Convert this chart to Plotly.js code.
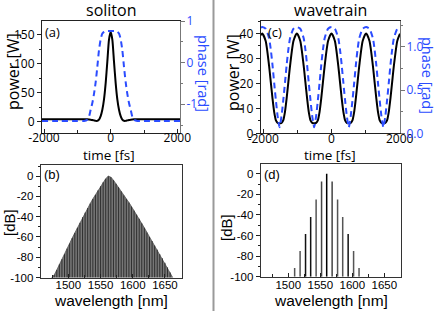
<!DOCTYPE html>
<html>
<head>
<meta charset="utf-8">
<script src="https://cdn.plot.ly/plotly-3.0.1.min.js"></script>
<style>html,body{margin:0;padding:0;background:#fff;}#chart{width:436px;height:311px;}</style>
</head>
<body>
<div id="chart"></div>
<script>
// ---------- data ----------
// (a) soliton, time domain
const timeA = [-2060,-1500,-1000,-800,-700,-650,-600,-550,-500,-450,-400,-350,-300,-250,-200,-150,-100,-50,0,50,100,150,200,250,300,350,400,450,500,550,600,650,700,800,1000,1500,2080];
const powerA = [4.5,4.5,4.5,4.5,4.5,4.3,4.0,3.5,2.8,2.0,2.0,4.0,10,21,39,67,104,142,155,142,104,67,39,21,10,4.0,2.0,2.0,2.8,3.5,4.0,4.3,4.5,4.5,4.5,4.5,4.5];
const phaseA = [-1.40,-1.40,-1.40,-1.40,-1.37,-1.30,-1.13,-0.97,-0.75,-0.47,-0.10,0.30,0.56,0.70,0.74,0.76,0.76,0.76,0.76,0.76,0.76,0.76,0.74,0.70,0.56,0.30,-0.10,-0.47,-0.75,-0.97,-1.13,-1.30,-1.37,-1.40,-1.40,-1.40,-1.40];

// (c) wavetrain, time domain
const timeC = [-2076,-2030,
  -1930,-1830,-1780,-1730,-1680,-1630,-1580, -1523,
  -1465,-1415,-1365,-1315,-1265,-1215,-1115, -1015,
  -915,-815,-765,-715,-665,-615,-565, -508,
  -450,-400,-350,-300,-250,-200,-100, 0,
  100,200,250,300,350,400,450, 508,
  565,615,665,715,765,815,915, 1015,
  1115,1215,1265,1315,1365,1415,1465, 1523,
  1580,1630,1680,1730,1780,1830,1930, 2010];
const powerC = [39.3,40,
  37,27,20.5,14,8.5,5.2,4.2, 4.0,
  4.2,5.2,8.5,14,20.5,27,37, 40,
  37,27,20.5,14,8.5,5.2,4.2, 4.0,
  4.2,5.2,8.5,14,20.5,27,37, 40,
  37,27,20.5,14,8.5,5.2,4.2, 4.0,
  4.2,5.2,8.5,14,20.5,27,37, 40,
  37,27,20.5,14,8.5,5.2,4.2, 4.0,
  4.2,5.2,8.5,14,20.5,27,37, 39.9];
const phaseC = [1.225,1.23,
  1.21,1.10,0.97,0.79,0.58,0.38,0.20, 0.07,
  0.20,0.38,0.58,0.79,0.97,1.10,1.21, 1.23,
  1.21,1.10,0.97,0.79,0.58,0.38,0.20, 0.07,
  0.20,0.38,0.58,0.79,0.97,1.10,1.21, 1.23,
  1.21,1.10,0.97,0.79,0.58,0.38,0.20, 0.07,
  0.20,0.38,0.58,0.79,0.97,1.10,1.21, 1.23,
  1.21,1.10,0.97,0.79,0.58,0.38,0.20, 0.07,
  0.20,0.38,0.58,0.79,0.97,1.10,1.21, 1.23];

// (b) soliton spectrum comb (nm, dB)
const combWlB = [1474,1478,1482,1486,1490,1494,1498,1502,1506,1510,1514,1518,1522,1526,1530,1534,1538,1542,1546,1550,1554,1558,1562,
  1566,1570,1574,1578,1582,1586,1590,1594,1598,1602,1606,1610,1614,1618,1622,1626,1630,1634,1638,1642,1646,1650,1654,1658,1662];
const combDbB = [-100,-97.5,-92.5,-87,-82,-77,-71.5,-66.5,-61,-56,-51,-46,-40.5,-36,-31.5,-27,-22.5,-18.5,-14,-10,-6,-2.5,0,
  -1,-4,-7.5,-11,-15,-19,-22.5,-26,-30,-34,-38,-42,-46.5,-51,-55.5,-60,-64,-68.5,-72.5,-77,-81,-85.5,-90,-95,-100];

// (d) wavetrain spectrum comb
const combWlD = [1510,1518.5,1527,1535,1543.5,1552,1560,1568.5,1577,1585,1593.5,1602,1610.5];
const combDbD = [-91.5,-75,-58.5,-42,-25,-7.5,0,-7.5,-25,-42,-58.5,-75,-91.5];

// tick labels
const timeTicks = [-2000,0,2000];
const timeTickText = ['-2000','0','2000'];
const powerTicksA = [0,50,100,150];
const phaseTicksA = [-1,0,1];
const phaseTickTextA = ['-1','0','1'];
const powerTicksC = [0,10,20,30,40];
const phaseTicksC = [0,0.5,1.0];
const phaseTickTextC = ['0.0','0.5','1.0'];
const wlTicks = [1500,1550,1600,1650];
const dbTicks = [-100,-80,-60,-40,-20,0];
const dbTickText = ['-100','-80','-60','-40','-20','0'];

// ---------- drawing ----------
const W = 436, H = 311;
const px = x => x / W;
const py = y => 1 - y / H;
const BLUE = '#2b4cff';
const tickFontTop = {family: 'Open Sans, sans-serif', size: 12, color: '#000'};
const tickFontBot = {family: 'Liberation Sans, Arial, sans-serif', size: 11.5, color: '#000'};
const blueTick = {family: 'Open Sans, sans-serif', size: 12, color: BLUE};

function baseAxis(extra) {
  return Object.assign({
    showline: true, linecolor: '#222', linewidth: 1, mirror: false,
    showgrid: false, zeroline: false, ticks: 'outside', ticklen: 4, tickcolor: '#222',
    fixedrange: true
  }, extra);
}

// stems from -100 dB up to each comb value
function stems(xs, ys) {
  const sx = [], sy = [];
  xs.forEach((x, i) => { sx.push(x, x, null); sy.push(-100, ys[i], null); });
  return {sx, sy};
}
const stB = stems(combWlB, combDbB);
const dColors = ['#555','#555','#111','#111','#555','#444','#000','#444','#555','#555','#111','#555','#555'];

const traces = [
  {x: timeA, y: powerA, type: 'scatter', mode: 'lines', xaxis: 'x', yaxis: 'y',
   line: {color: '#000', width: 2, shape: 'spline', smoothing: 0.6}},
  {x: timeA, y: phaseA, type: 'scatter', mode: 'lines', xaxis: 'x', yaxis: 'y2',
   line: {color: BLUE, width: 2, dash: '6px,4px', shape: 'spline', smoothing: 0.6}},
  {x: timeC, y: powerC, type: 'scatter', mode: 'lines', xaxis: 'x2', yaxis: 'y3',
   line: {color: '#000', width: 2, shape: 'spline', smoothing: 0.6}},
  {x: timeC, y: phaseC, type: 'scatter', mode: 'lines', xaxis: 'x2', yaxis: 'y4',
   line: {color: BLUE, width: 2, dash: '6px,4px', shape: 'spline', smoothing: 0.6}},
  // (b) envelope fill
  {x: combWlB.concat([combWlB[combWlB.length-1], combWlB[0]]),
   y: combDbB.concat([-100, -100]),
   type: 'scatter', mode: 'lines', fill: 'toself', fillcolor: '#777',
   line: {width: 0.8, color: '#555'}, xaxis: 'x3', yaxis: 'y5'},
  // (b) comb lines
  {x: stB.sx, y: stB.sy, type: 'scatter', mode: 'lines', connectgaps: false,
   line: {color: '#262626', width: 0.9}, xaxis: 'x3', yaxis: 'y5'}
];
// (d) comb lines, one stem per trace so each can keep its own shade
combWlD.forEach((x, i) => {
  traces.push({x: [x, x], y: [-100, combDbD[i]], type: 'scatter', mode: 'lines',
    line: {color: dColors[i], width: 1.5}, xaxis: 'x4', yaxis: 'y6'});
});

function ann(text, x, y, size, opts) {
  return Object.assign({text: text, x: px(x), y: py(y), xref: 'paper', yref: 'paper',
    showarrow: false, xanchor: 'center', yanchor: 'middle',
    font: {family: 'Open Sans, sans-serif', size: size, color: '#000'}}, opts || {});
}
const arial = (s, c) => ({family: 'Liberation Sans, Arial, sans-serif', size: s, color: c || '#000'});
const open = (s, c) => ({family: 'Open Sans, sans-serif', size: s, color: c || '#000'});

const layout = {
  width: W, height: H, margin: {l: 0, r: 0, t: 0, b: 0},
  paper_bgcolor: '#fff', plot_bgcolor: '#fff', showlegend: false,
  xaxis: baseAxis({domain: [px(42), px(180)], anchor: 'y', range: [-2060, 2080], mirror: true,
    tickvals: timeTicks, ticktext: timeTickText, ticks: 'inside', tickfont: tickFontTop, ticklabelstandoff: -6,
    minor: {dtick: 1000, tick0: 0, ticks: 'inside', ticklen: 3, tickcolor: '#222'}}),
  yaxis: baseAxis({domain: [py(133), py(21)], anchor: 'x', range: [-19, 174],
    tickvals: powerTicksA, tickfont: tickFontTop,
    minor: {dtick: 25, tick0: 0, ticks: 'outside', ticklen: 2, tickcolor: '#222'}}),
  yaxis2: baseAxis({overlaying: 'y', side: 'right', anchor: 'x', range: [-1.69, 1.0],
    linecolor: '#777', tickcolor: '#777',
    tickvals: phaseTicksA, ticktext: phaseTickTextA, tickfont: blueTick, ticklabelstandoff: -1,
    minor: {dtick: 0.5, tick0: 0, ticks: 'outside', ticklen: 2, tickcolor: '#777'}}),
  xaxis2: baseAxis({domain: [px(260.7), px(400)], anchor: 'y3', range: [-2076, 2010], mirror: true,
    tickvals: timeTicks, ticktext: timeTickText, ticks: 'inside', tickfont: tickFontTop, ticklabelstandoff: -6,
    minor: {dtick: 1000, tick0: 0, ticks: 'inside', ticklen: 3, tickcolor: '#222'}}),
  yaxis3: baseAxis({domain: [py(133.3), py(21)], anchor: 'x2', range: [0, 45],
    tickvals: powerTicksC, tickfont: tickFontTop,
    minor: {dtick: 5, tick0: 0, ticks: 'outside', ticklen: 2, tickcolor: '#222'}}),
  yaxis4: baseAxis({overlaying: 'y3', side: 'right', anchor: 'x2', range: [0, 1.3],
    linecolor: '#777', tickcolor: '#777',
    tickvals: phaseTicksC, ticktext: phaseTickTextC, tickfont: blueTick, ticklabelstandoff: -1,
    minor: {dtick: 0.25, tick0: 0, ticks: 'outside', ticklen: 2, tickcolor: '#777'}}),
  xaxis3: baseAxis({domain: [px(40.7), px(181.7)], anchor: 'y5', range: [1457, 1676], mirror: true,
    linecolor: '#333', tickvals: wlTicks, ticks: 'inside', tickfont: tickFontBot, ticklabelstandoff: -3,
    minor: {dtick: 25, tick0: 1475, ticks: 'inside', ticklen: 3, tickcolor: '#222'}}),
  yaxis5: baseAxis({domain: [py(277.5), py(165)], anchor: 'x3', range: [-100, 11], mirror: true,
    linecolor: '#333', tickvals: dbTicks, ticktext: dbTickText, tickfont: tickFontBot,
    minor: {dtick: 10, tick0: 0, ticks: 'outside', ticklen: 2, tickcolor: '#222'}}),
  xaxis4: baseAxis({domain: [px(260.7), px(401)], anchor: 'y6', range: [1457, 1676], mirror: true,
    linecolor: '#333', tickvals: wlTicks, ticks: 'inside', tickfont: tickFontBot, ticklabelstandoff: -3,
    minor: {dtick: 25, tick0: 1475, ticks: 'inside', ticklen: 3, tickcolor: '#222'}}),
  yaxis6: baseAxis({domain: [py(276.7), py(164)], anchor: 'x4', range: [-100, 9.5], mirror: true,
    linecolor: '#333', tickvals: dbTicks, ticktext: dbTickText, tickfont: tickFontBot,
    minor: {dtick: 10, tick0: 0, ticks: 'outside', ticklen: 2, tickcolor: '#222'}}),
  shapes: [{type: 'line', xref: 'paper', yref: 'paper', x0: px(213.5), x1: px(213.5), y0: 0, y1: 1,
    line: {color: '#9a9a9a', width: 2}}],
  annotations: [
    ann('soliton', 111, 10, 16),
    ann('wavetrain', 330, 10, 16),
    ann('power [W]', 13, 72, 16, {textangle: -90}),
    ann('power [W]', 233, 72, 16, {textangle: -90}),
    ann('phase [rad]', 204, 73, 14.5, {textangle: 90, font: open(14.5, BLUE)}),
    ann('phase [rad]', 428, 75, 14.5, {textangle: 90, font: open(14.5, BLUE)}),
    ann('time [fs]', 109, 155, 13.5),
    ann('time [fs]', 330, 155, 13.5),
    ann('[dB]', 9, 223, 15, {textangle: -90, font: arial(15)}),
    ann('[dB]', 226, 228, 15, {textangle: -90, font: arial(15)}),
    ann('wavelength [nm]', 111, 300, 15.5, {font: arial(15.5)}),
    ann('wavelength [nm]', 331, 300, 15.5, {font: arial(15.5)}),
    ann('(a)', 52, 32, 13),
    ann('(b)', 52, 174, 13, {font: arial(13)}),
    ann('(c)', 275, 32, 13),
    ann('(d)', 272, 174, 13, {font: arial(13)})
  ]
};

Plotly.newPlot('chart', traces, layout, {staticPlot: true, displayModeBar: false});
</script>
</body>
</html>
